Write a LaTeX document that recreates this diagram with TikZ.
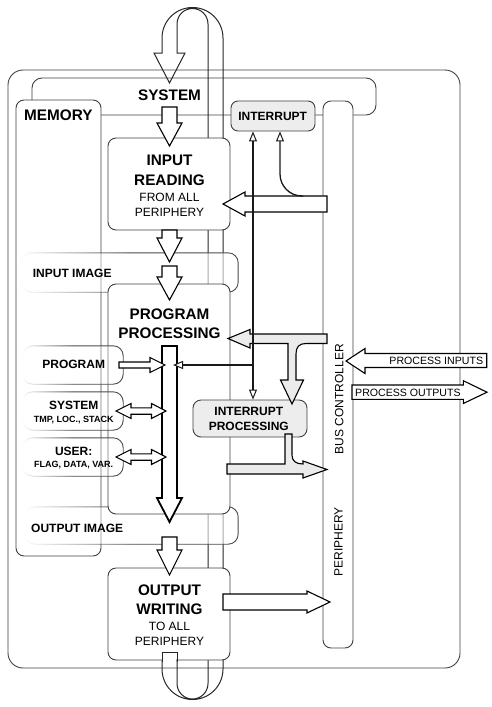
\documentclass[tikz,border=0pt]{standalone}
\usepackage{fontspec}
\setmainfont{Liberation Sans}
\usetikzlibrary{arrows.meta,fadings}
\tikzfading[name=lfade, left color=transparent!100, right color=transparent!0, middle color=transparent!0]
\newcommand{\ftitle}{\fontsize{15.3pt}{17pt}\selectfont\bfseries}
\newcommand{\fsub}{\fontsize{12pt}{14pt}\selectfont}
\newcommand{\fsmallb}{\fontsize{12pt}{14pt}\selectfont\bfseries}
\newcommand{\ftinyb}{\fontsize{9pt}{11pt}\selectfont\bfseries}
\newcommand{\fproc}{\fontsize{10.6pt}{12pt}\selectfont}
\newcommand{\mydarr}[3]{\draw[barrow] (162,#1) -- (177,#1) -- (177,#2) -- (182,#2) -- (169.5,#3) -- (157,#2) -- (162,#2) -- cycle;}
\newcommand{\mydbl}[1]{\draw[barrow] (116,#1) -- (131,#1-7.5) -- (131,#1-3.2) -- (151.5,#1-3.2) -- (151.5,#1-7.5) -- (166,#1) -- (151.5,#1+7.5) -- (151.5,#1+3.2) -- (131,#1+3.2) -- (131,#1+7.5) -- cycle;}
\newcommand{\fadedbox}[2]{\draw[fadebox, #2] (#1.south west) rectangle (#1.north east);}
\tikzset{
  box/.style={draw=black!75, line width=0.9pt, fill=white, rounded corners=8pt, inner sep=0pt},
  graybox/.style={box, fill=black!7},
  slot/.style={inner sep=0pt, draw=none, fill=none},
  fadebox/.style={draw=black!70, line width=0.9pt, fill=white, fill opacity=0.6, rounded corners=10pt, path fading=lfade},
  loopline/.style={draw=black!85, line width=1pt},
  barrow/.style={draw=black, line width=1.1pt, fill=white},
  garrow/.style={draw=black, line width=1.1pt, fill=black!8},
  iline/.style={draw=black!90, line width=1.3pt},
  tri/.tip={Triangle[length=10pt,width=8pt,fill=white,line width=1pt]},
  txt/.style={inner sep=0pt, anchor=base, text=black},
}
\begin{document}
\begin{tikzpicture}[x=1pt,y=-1pt]
\useasboundingbox (0,0) rectangle (492,707);
% frames
\node[box, fill=none, rounded corners=15pt, minimum width=452pt, minimum height=598pt] (outer) at (234,369) {};
\node[box, fill=none, rounded corners=10pt, minimum width=344pt, minimum height=37pt] (sysrect) at (204,96.5) {};
% big loop arrow
\draw[loopline] (162,652) -- (162,669) arc[start angle=180, end angle=0, radius=30.5]
  -- (223,38) arc[start angle=0, end angle=-180, radius=30.5]
  -- (162,53) -- (154,53) -- (169.5,83) -- (185,53) -- (177,53)
  -- (177,24) arc[start angle=180, end angle=360, radius=15.5]
  -- (208,683.5) arc[start angle=0, end angle=180, radius=15.5]
  -- (177,652) -- cycle;
% boxes
\node[box, minimum width=85pt, minimum height=456pt] (mem) at (58.5,328) {};
\node[box, minimum width=122pt, minimum height=92pt] (inread) at (169,184) {};
\node[box, minimum width=122pt, minimum height=92pt] (outwr) at (169,614) {};
\node[graybox, rounded corners=7pt, minimum width=84pt, minimum height=30pt] (intr) at (273,116) {};
\node[box, minimum width=30pt, minimum height=547pt] (bus) at (338,374.5) {};
\node[slot, minimum width=216pt, minimum height=39pt] (inimg) at (130,272.5) {};
\node[slot, minimum width=213pt, minimum height=37pt] (outimg) at (131.5,525.5) {};
\fadedbox{inimg}{}
\fadedbox{outimg}{}
\node[box, minimum width=122pt, minimum height=230pt] (progproc) at (169,399) {};
\node[slot, minimum width=100pt, minimum height=38pt] (progb) at (73,365) {};
\node[slot, minimum width=100pt, minimum height=38pt] (sysb) at (73,411) {};
\node[slot, minimum width=100pt, minimum height=38pt] (userb) at (73,457) {};
\fadedbox{progb}{fill opacity=0.3}
\fadedbox{sysb}{fill opacity=0.3}
\fadedbox{userb}{fill opacity=0.3}
\node[graybox, minimum width=114pt, minimum height=37pt] (ipr) at (250,418.5) {};
% tail of loop arrow over output writing box
\fill[white] (162.6,652.6) rectangle (176.4,661);
\draw[loopline] (162,662) -- (162,652) -- (177,652) -- (177,662);
% white block arrows (main column)
\mydarr{107}{123}{146}
\mydarr{230}{238}{262}
\mydarr{266}{277}{300}
\draw[barrow, line width=1.8pt] (162,346) -- (177,346) -- (177,498) -- (182,498) -- (169.5,522) -- (157,498) -- (162,498) -- cycle;
\mydarr{537}{550}{575}
% left side arrows
\draw[barrow] (119,362) -- (150,362) -- (150,357.5) -- (165,365) -- (150,372.5) -- (150,368) -- (119,368) -- cycle;
\mydbl{411}
\mydbl{457}
% peripheral arrows
\draw[barrow] (327,196) -- (245,196) -- (245,192) -- (223,204) -- (245,216) -- (245,212) -- (327,212) -- cycle;
\draw[barrow] (223,594) -- (307,594) -- (307,591) -- (330,602) -- (307,613) -- (307,610) -- (223,610) -- cycle;
\draw[barrow] (486.7,353.5) -- (365,353.5) -- (365,348.5) -- (346,361) -- (365,373.5) -- (365,367.5) -- (486.7,367.5) -- cycle;
\draw[barrow] (352,385) -- (463.3,385) -- (463.3,380.7) -- (487,392.2) -- (463.3,403.5) -- (463.3,399.3) -- (352,399.3) -- cycle;
% gray arrows
\draw[garrow] (327,334) -- (250,334) -- (250,329.5) -- (228,338.5) -- (250,348) -- (250,343.5) -- (288,343.5) -- (288,380) -- (280.5,380) -- (292,404) -- (303.5,380) -- (296,380) -- (296,354) .. controls (296,347) and (299,343.5) .. (306,343.5) -- (327,343.5) -- cycle;
\draw[garrow] (227,464) -- (285,464) -- (285,434) -- (292,434) -- (292,455) .. controls (292,461) and (296,464) .. (303,464) -- (303,461) -- (327,469.5) -- (303,478) -- (303,474) -- (227,474) -- cycle;
% texts
\node[txt] (tsys) at (169.5,100.5) {\ftitle SYSTEM};
\node[txt, anchor=base west] (tmem) at (24,120) {\ftitle MEMORY};
\node[txt] (tin1) at (169.5,165.7) {\ftitle INPUT};
\node[txt] (tin2) at (169.5,185) {\ftitle READING};
\node[txt] (tin3) at (169.5,201.3) {\fsub FROM ALL};
\node[txt] (tin4) at (169.5,216.7) {\fsub PERIPHERY};
\node[txt] (tpp1) at (169.5,319) {\ftitle PROGRAM};
\node[txt] (tpp2) at (169.5,338.7) {\ftitle PROCESSING};
\node[txt] (tow1) at (169.5,595.7) {\ftitle OUTPUT};
\node[txt] (tow2) at (169.5,614.3) {\ftitle WRITING};
\node[txt] (tow3) at (169.5,630.7) {\fsub TO ALL};
\node[txt] (tow4) at (169.5,645.7) {\fsub PERIPHERY};
\node[txt, anchor=base west] (tii) at (32.7,277.3) {\fsmallb INPUT IMAGE};
\node[txt, anchor=base west] (toi) at (31,532.3) {\fsmallb OUTPUT IMAGE};
\node[txt] (tpg) at (73.7,368.3) {\fsmallb PROGRAM};
\node[txt] (tsb1) at (73.7,409) {\fsmallb SYSTEM};
\node[txt] (tsb2) at (73.7,422.7) {\ftinyb TMP, LOC., STACK};
\node[txt] (tub1) at (73.7,455) {\fsmallb USER:};
\node[txt] (tub2) at (73.7,467.3) {\ftinyb FLAG, DATA, VAR.};
\node[txt] (tint) at (272.7,120) {\fsmallb INTERRUPT};
\node[txt] (tip1) at (248.8,415) {\fsmallb INTERRUPT};
\node[txt] (tip2) at (248.8,430.5) {\fsmallb PROCESSING};
\node[txt, rotate=90] (tbus) at (343.3,399) {\fsub BUS CONTROLLER};
\node[txt, rotate=90] (tper) at (342.5,542) {\fsub PERIPHERY};
\node[txt, anchor=base east] (tpin) at (483.3,364.3) {\fproc PROCESS INPUTS};
\node[txt, anchor=base west] (tpout) at (355,396) {\fproc PROCESS OUTPUTS};
% interrupt lines
\coordinate (vx) at (253,0);
\coordinate (hj) at (253,365);
\coordinate (pa) at (173,365);
\coordinate (cj) at (303,196);
\coordinate (cx) at (280,0);
\draw[iline, tri-tri] (ipr.north -| vx) -- (intr.south -| vx);
\draw[iline, -tri] (hj) -- (pa);
\draw[iline, -tri] (cj) [rounded corners=22pt] -| (intr.south -| cx);
\end{tikzpicture}
\end{document}
